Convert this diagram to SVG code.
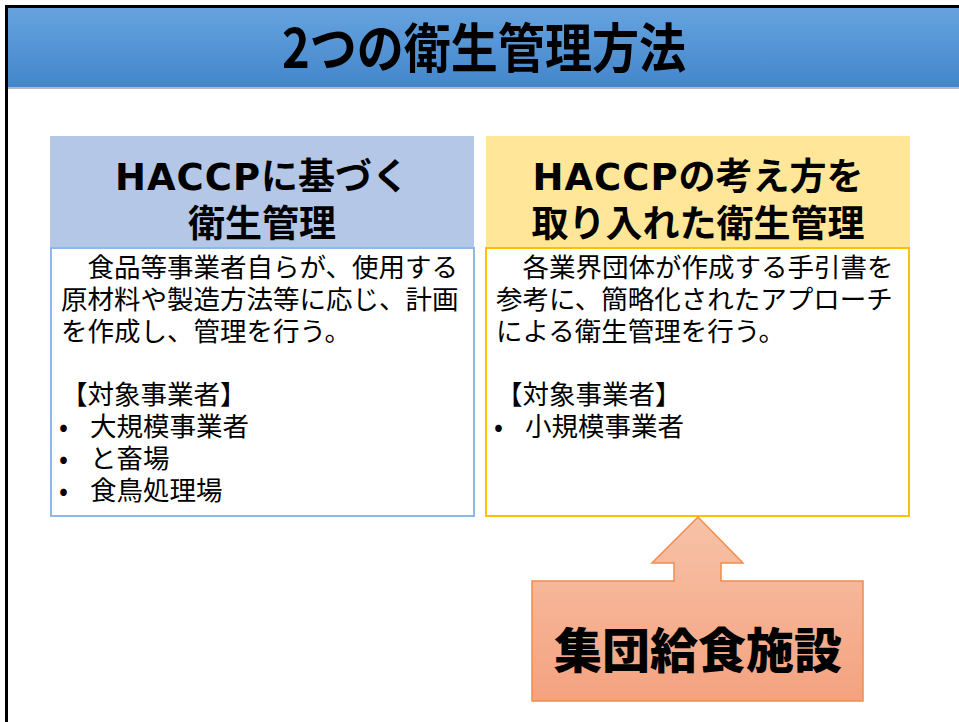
<svg xmlns="http://www.w3.org/2000/svg" width="959" height="722" viewBox="0 0 959 722">
<defs>
<linearGradient id="titleGrad" x1="0" y1="0" x2="0" y2="1">
<stop offset="0" stop-color="#66A3DF"/>
<stop offset="1" stop-color="#4386CB"/>
</linearGradient>
<linearGradient id="calloutGrad" x1="0" y1="0" x2="0" y2="1">
<stop offset="0" stop-color="#F7C2A8"/>
<stop offset="1" stop-color="#F4A27F"/>
</linearGradient>
<style>
.jp{font-family:"Noto Sans CJK JP","Noto Sans",sans-serif;fill:#000}
.title{font-size:48px;font-weight:700}
.head{font-size:37px;font-weight:700}
.lat{font-family:"DejaVu Sans","Noto Sans CJK JP",sans-serif;font-size:37px;font-weight:700;letter-spacing:1px}
.body{font-size:26.5px}
.big{font-size:48px;font-weight:900}
</style>
</defs>
<rect x="0" y="0" width="959" height="722" fill="#FFFFFF"/>
<!-- frame -->
<rect x="8" y="86" width="951" height="3" fill="#B8B8B8"/>
<rect x="8" y="8" width="951" height="79" fill="url(#titleGrad)"/>
<rect x="5" y="5" width="954" height="3" fill="#000"/>
<rect x="5" y="5" width="3" height="717" fill="#000"/>
<g id="title">
<text class="jp title" x="484" y="68" text-anchor="middle" transform="translate(484,68) scale(0.98,1.12) translate(-484,-68)">2つの衛生管理方法</text>
</g>
<g id="left-box">
<rect x="50" y="136" width="424" height="112" fill="#B4C7E7"/>
<rect x="51" y="248" width="423" height="268" fill="#FFFFFF" stroke="#8DB9E6" stroke-width="2"/>
<text class="jp head" x="262" y="190" text-anchor="middle"><tspan class="lat">HACCP</tspan>に基づく</text>
<text class="jp head" x="262" y="237" text-anchor="middle">衛生管理</text>
<text class="jp body" x="61" y="277">　食品等事業者自らが、使用する</text>
<text class="jp body" x="61" y="309">原材料や製造方法等に応じ、計画</text>
<text class="jp body" x="61" y="341">を作成し、管理を行う。</text>
<text class="jp body" x="61" y="404">【対象事業者】</text>
<text class="jp body" x="59" y="436">•<tspan x="90">大規模事業者</tspan></text>
<text class="jp body" x="59" y="468">•<tspan x="90">と畜場</tspan></text>
<text class="jp body" x="59" y="500">•<tspan x="90">食鳥処理場</tspan></text>
</g>
<g id="right-box">
<rect x="486" y="136" width="424" height="112" fill="#FFE699"/>
<rect x="486" y="248" width="423" height="268" fill="#FFFFFF" stroke="#FFC000" stroke-width="2"/>
<text class="jp head" x="698" y="190" text-anchor="middle"><tspan class="lat">HACCP</tspan>の考え方を</text>
<text class="jp head" x="698" y="237" text-anchor="middle">取り入れた衛生管理</text>
<text class="jp body" x="496" y="277">　各業界団体が作成する手引書を</text>
<text class="jp body" x="496" y="309">参考に、簡略化されたアプローチ</text>
<text class="jp body" x="496" y="341">による衛生管理を行う。</text>
<text class="jp body" x="496" y="404">【対象事業者】</text>
<text class="jp body" x="494" y="436">•<tspan x="525">小規模事業者</tspan></text>
</g>
<g id="callout">
<path d="M532,581 L674,581 L674,563 L652,563 L698,517 L743,563 L721,563 L721,581 L863,581 L863,701 L532,701 Z" fill="url(#calloutGrad)" stroke="#F08C4E" stroke-width="1.5"/>
<text class="jp big" x="698" y="668" text-anchor="middle">集団給食施設</text>
</g>
<g id="connectors"></g>
</svg>
